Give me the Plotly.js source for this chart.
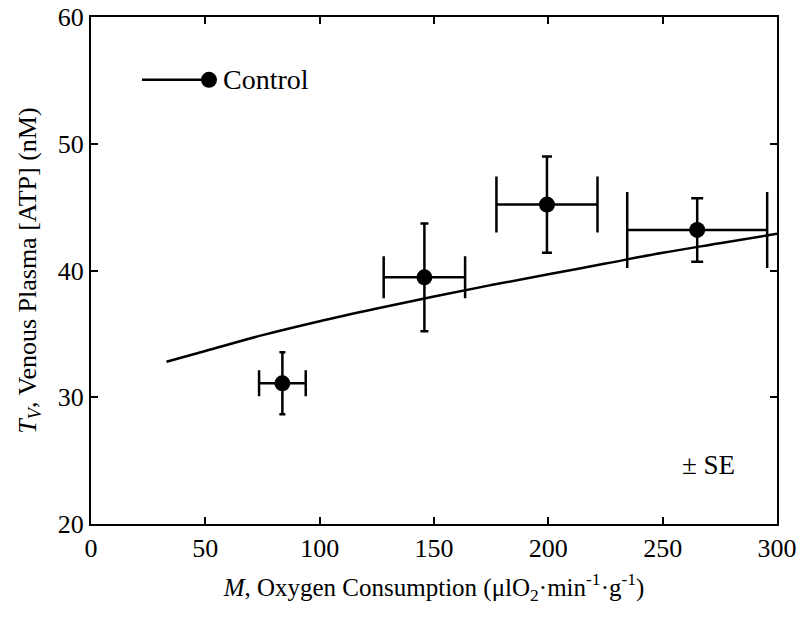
<!DOCTYPE html>
<html>
<head>
<meta charset="utf-8">
<script src="https://cdn.plot.ly/plotly-3.0.1.min.js"></script>
<style>html,body{margin:0;padding:0;background:#fff;}#chart{width:801px;height:619px;}</style>
</head>
<body>
<div id="chart"></div>
<script>
// Measured data (Control)
var dataX     = [83.7, 145.8, 199.4, 265.1];
var dataY     = [31.1, 39.46, 45.2, 43.2];
var dataXErr  = [10.2, 17.8, 22.1, 30.6];
var dataYErr  = [2.45, 4.25, 3.8, 2.5];
// Model curve
var modelX = [33, 50, 75, 100, 125, 150, 175, 200, 225, 250, 275, 300];
var modelY = [32.8, 33.65, 34.9, 36.0, 37.0, 37.95, 38.85, 39.7, 40.55, 41.4, 42.15, 42.9];
// Tick labels
var xTicks = [0, 50, 100, 150, 200, 250, 300];
var yTicks = [20, 30, 40, 50, 60];
// cap sizes (style)
var xCap = [13, 21, 28, 38];
var yCap = [3, 4, 5, 6];

var FONT = "Liberation Serif";
var traces = [{
  x: modelX, y: modelY, mode: 'lines', line: {color: '#000', width: 2.5, shape: 'spline'},
  hoverinfo: 'skip', showlegend: false
}];
for (var i = 0; i < dataX.length; i++) {
  traces.push({
    x: [dataX[i]], y: [dataY[i]], mode: 'markers',
    marker: {color: '#000', size: 16},
    error_x: {type: 'data', array: [dataXErr[i]], color: '#000', thickness: 2.5, width: xCap[i]},
    error_y: {type: 'data', array: [dataYErr[i]], color: '#000', thickness: 2.5, width: yCap[i]},
    showlegend: false
  });
}

var layout = {
  width: 801, height: 619,
  margin: {l: 91, r: 24, t: 17, b: 95},
  paper_bgcolor: '#fff', plot_bgcolor: '#fff',
  font: {family: FONT, color: '#000', size: 26},
  xaxis: {
    range: [0, 300], tickvals: xTicks, ticktext: xTicks.map(String),
    showgrid: false, zeroline: false, showline: true, linecolor: '#000', linewidth: 2,
    mirror: 'ticks', ticks: 'inside', ticklen: 7, tickwidth: 2, tickcolor: '#000',
    tickfont: {family: FONT, size: 26},
    title: {text: '<i>M</i>, Oxygen Consumption (μlO<sub>2</sub>·min<sup>-1</sup>·g<sup>-1</sup>)',
            font: {family: FONT, size: 25}, standoff: 16}
  },
  yaxis: {
    range: [20, 60], tickvals: yTicks, ticktext: yTicks.map(String),
    showgrid: false, zeroline: false, showline: true, linecolor: '#000', linewidth: 2,
    mirror: 'ticks', ticks: 'inside', ticklen: 7, tickwidth: 2, tickcolor: '#000',
    tickfont: {family: FONT, size: 26},
    title: {text: '<i>T<sub>V</sub></i>, Venous Plasma [ATP] (nM)',
            font: {family: FONT, size: 26}, standoff: 14}
  },
  shapes: [
    {type: 'line', xref: 'paper', yref: 'paper', x0: 0.0743, x1: 0.165, y0: 0.876, y1: 0.876,
     line: {color: '#000', width: 2.5}},
    {type: 'circle', xref: 'paper', yref: 'paper', xsizemode: 'pixel', ysizemode: 'pixel',
     xanchor: 0.172, yanchor: 0.876, x0: -8, x1: 8, y0: -8, y1: 8,
     fillcolor: '#000', line: {color: '#000', width: 0}}
  ],
  annotations: [
    {xref: 'paper', yref: 'paper', x: 0.189, y: 0.876, xanchor: 'left', yanchor: 'middle',
     text: 'Control', showarrow: false, font: {family: FONT, size: 28}},
    {xref: 'paper', yref: 'paper', x: 0.942, y: 0.117, xanchor: 'right', yanchor: 'middle',
     text: '± SE', showarrow: false, font: {family: FONT, size: 27}}
  ],
  showlegend: false
};
Plotly.newPlot('chart', traces, layout, {displayModeBar: false, staticPlot: true});
</script>
</body>
</html>
